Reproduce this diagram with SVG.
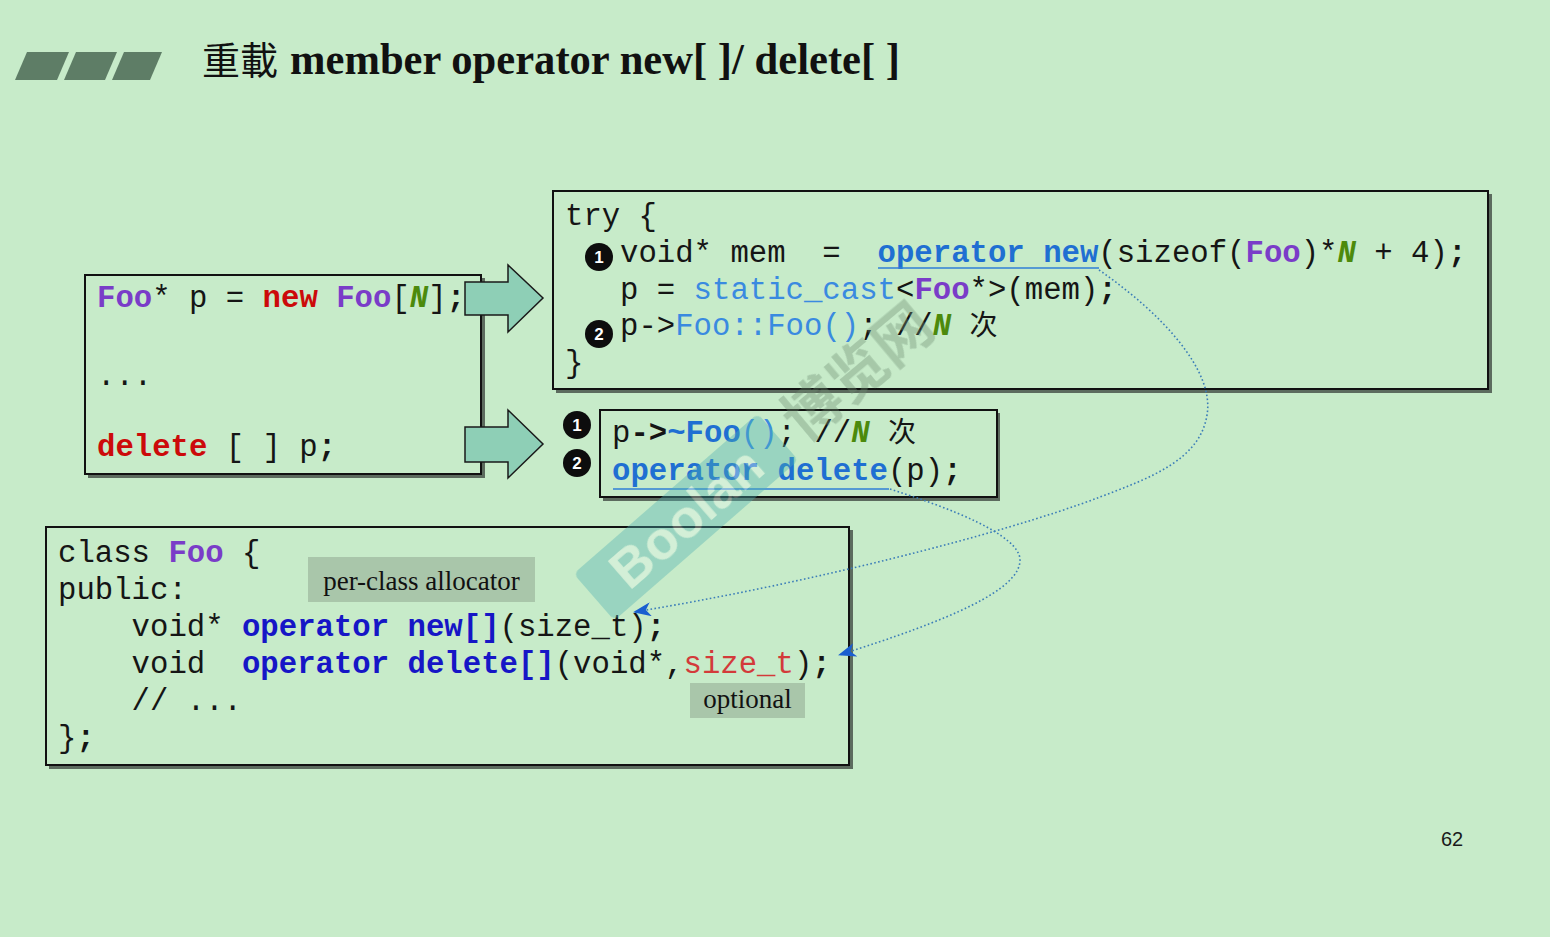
<svg xmlns="http://www.w3.org/2000/svg" width="1550" height="937" viewBox="0 0 1550 937">
  <defs>
    <style>
      .code { font-family: "Liberation Mono", "Courier New", "Noto Sans CJK SC", monospace; font-size: 30.67px; fill: #151515; }
      .b { font-weight: bold; }
      .foo { fill: #7a3cc8; font-weight: bold; }
      .kw { fill: #cc0a0a; font-weight: bold; }
      .n { fill: #4c8a0c; font-weight: bold; font-style: italic; }
      .op { fill: #1f6fd2; font-weight: bold; }
      .lb { fill: #3a8ae0; }
      .ob { fill: #1616c6; font-weight: bold; }
      .red { fill: #d33a3a; }
      .cjk { font-family: "Noto Sans CJK SC", sans-serif; font-size: 28px; }
      .box { fill: #c7ebc9; stroke: #111; stroke-width: 2; }
      .shadow { fill: #5c6b5e; }
      .fat { fill: #8ecfb6; stroke: #1a1a1a; stroke-width: 1.5; }
      .dots { fill: none; stroke: #3b7db8; stroke-width: 1.6; stroke-dasharray: 1.6 2.4; }
      .uline { stroke: #2f7fd6; stroke-width: 1.6; }
      .badge { fill: #0d0d0d; }
      .badge-t { font-family: "Liberation Sans", Arial, sans-serif; font-weight: bold; font-size: 17px; fill: #fff; text-anchor: middle; }
      .tag { fill: #a9c6aa; }
      .tag-t { font-family: "Liberation Serif", "Times New Roman", serif; font-size: 27px; fill: #111; text-anchor: middle; }
    </style>
    <marker id="head" viewBox="0 0 18 14" markerWidth="18" markerHeight="14" markerUnits="userSpaceOnUse" refX="17" refY="7" orient="auto">
      <path d="M0,0 L18,7 L0,14 L5,7 z" fill="#1a5fd0"/>
    </marker>
  </defs>

  <!-- page background -->
  <rect width="1550" height="937" fill="#c7ebc9"/>

  <!-- heading -->
  <g id="title">
    <g fill="#5e7d66">
      <polygon points="15,80 27,52 69,52 57,80"/>
      <polygon points="64,80 76,52 117,52 105,80"/>
      <polygon points="112,80 124,52 162,52 150,80"/>
    </g>
    <text x="202" y="74" font-family="Noto Sans CJK TC, Noto Sans CJK SC, sans-serif" font-size="38" fill="#111">重載</text>
    <text x="290" y="74" font-family="Liberation Serif, Times New Roman, serif" font-weight="bold" font-size="44" fill="#111" textLength="610" lengthAdjust="spacingAndGlyphs">member operator new[ ]/ delete[ ]</text>
  </g>

  <!-- client code: new[] / delete[] expressions -->
  <g id="expr">
    <rect class="shadow" x="88" y="278" width="397" height="200"/>
    <rect class="box" x="85" y="275" width="396" height="199"/>
    <text class="code" x="97" y="307" xml:space="preserve"><tspan class="foo">Foo</tspan>* p = <tspan class="kw">new</tspan> <tspan class="foo">Foo</tspan>[<tspan class="n">N</tspan>]<tspan class="b">;</tspan></text>
    <text class="code" x="97" y="385">...</text>
    <text class="code" x="97" y="456" xml:space="preserve"><tspan class="kw">delete</tspan> [ ] p<tspan class="b">;</tspan></text>
  </g>

  <!-- expansion of new[] -->
  <g id="new-expansion">
    <rect class="shadow" x="556" y="194" width="936" height="199"/>
    <rect class="box" x="553" y="191" width="935" height="198"/>
    <text class="code" x="565" y="225">try {</text>
    <circle class="badge" cx="599" cy="257" r="14"/>
    <text class="badge-t" x="599" y="263">1</text>
    <text class="code" x="620" y="262" xml:space="preserve">void* mem  =  <tspan class="op">operator new</tspan>(sizeof(<tspan class="foo">Foo</tspan>)*<tspan class="n">N</tspan> + 4)<tspan class="b">;</tspan></text>
    <line class="uline" x1="878" y1="268" x2="1099" y2="268"/>
    <text class="code" x="620" y="298.5" xml:space="preserve">p = <tspan class="lb">static_cast</tspan>&lt;<tspan class="foo">Foo</tspan>*&gt;(mem)<tspan class="b">;</tspan></text>
    <circle class="badge" cx="599" cy="334" r="14"/>
    <text class="badge-t" x="599" y="340">2</text>
    <text class="code" x="620" y="335" xml:space="preserve">p-&gt;<tspan class="lb">Foo::Foo()</tspan>; //<tspan class="n">N</tspan> <tspan class="cjk">次</tspan></text>
    <text class="code" x="565" y="372">}</text>
  </g>

  <!-- expansion of delete[] -->
  <g id="delete-expansion">
    <circle class="badge" cx="577" cy="425" r="14"/>
    <text class="badge-t" x="577" y="431">1</text>
    <circle class="badge" cx="577" cy="463" r="14"/>
    <text class="badge-t" x="577" y="469">2</text>
    <rect class="shadow" x="603" y="413" width="397" height="88"/>
    <rect class="box" x="600" y="410" width="397" height="87"/>
    <text class="code" x="612" y="442" xml:space="preserve">p<tspan class="b">-&gt;</tspan><tspan class="op">~Foo</tspan><tspan class="lb">()</tspan>; //<tspan class="n">N</tspan> <tspan class="cjk">次</tspan></text>
    <text class="code" x="612" y="480" xml:space="preserve"><tspan class="op">operator delete</tspan>(p)<tspan class="b">;</tspan></text>
    <line class="uline" x1="613" y1="489" x2="889" y2="489"/>
  </g>

  <!-- class Foo with its own allocator -->
  <g id="class-foo">
    <rect class="shadow" x="49" y="530" width="804" height="239"/>
    <rect class="box" x="46" y="527" width="803" height="238"/>
    <text class="code" x="58" y="562" xml:space="preserve">class <tspan class="foo">Foo</tspan> {</text>
    <text class="code" x="58" y="599">public:</text>
    <text class="code" x="58" y="636" xml:space="preserve">    void* <tspan class="ob">operator new[]</tspan>(size_t)<tspan class="b">;</tspan></text>
    <text class="code" x="58" y="673" xml:space="preserve">    void  <tspan class="ob">operator delete[]</tspan>(void*,<tspan class="red">size_t</tspan>)<tspan class="b">;</tspan></text>
    <text class="code" x="58" y="710" xml:space="preserve">    // ...</text>
    <text class="code" x="58" y="747">}<tspan class="b">;</tspan></text>
  </g>

  <g id="tag-allocator">
    <rect class="tag" x="308" y="557" width="227" height="45"/>
    <text class="tag-t" x="421.5" y="590">per-class allocator</text>
  </g>

  <g id="tag-optional">
    <rect class="tag" x="690" y="683" width="115" height="35"/>
    <text class="tag-t" x="747.5" y="708">optional</text>
  </g>

  <!-- connectors -->
  <g id="connectors">
    <polygon class="fat" points="465,282 508,282 508,265 543,298 508,332 508,315 465,315"/>
    <polygon class="fat" points="465,427 508,427 508,410 543,444 508,478 508,462 465,462"/>
    <path class="dots" marker-end="url(#head)" d="M1099,270 C1160,312 1215,370 1207,415 C1200,460 1150,478 1100,497 C1000,535 800,585 634,612"/>
    <path class="dots" marker-end="url(#head)" d="M890,489 C950,508 1020,535 1020,560 C1020,590 950,620 839,655"/>
  </g>

  <!-- watermark -->
  <g id="watermark" opacity="0.38">
    <g transform="translate(686,517) rotate(-41)">
      <rect x="-122" y="-31" width="244" height="62" rx="6" fill="#4fb0b2"/>
      <text x="0" y="19" font-family="Liberation Sans, Arial, sans-serif" font-weight="bold" font-size="54" fill="#e6f6ee" text-anchor="middle">Boolan</text>
    </g>
    <text transform="translate(858,372) rotate(-40)" x="0" y="20" font-family="Noto Sans CJK SC, sans-serif" font-weight="bold" font-size="58" fill="#6f8f74" text-anchor="middle">博览网</text>
  </g>

  <g id="page-number">
    <text x="1441" y="846" font-family="Liberation Sans, Arial, sans-serif" font-size="20" fill="#1a1a1a">62</text>
  </g>
</svg>
